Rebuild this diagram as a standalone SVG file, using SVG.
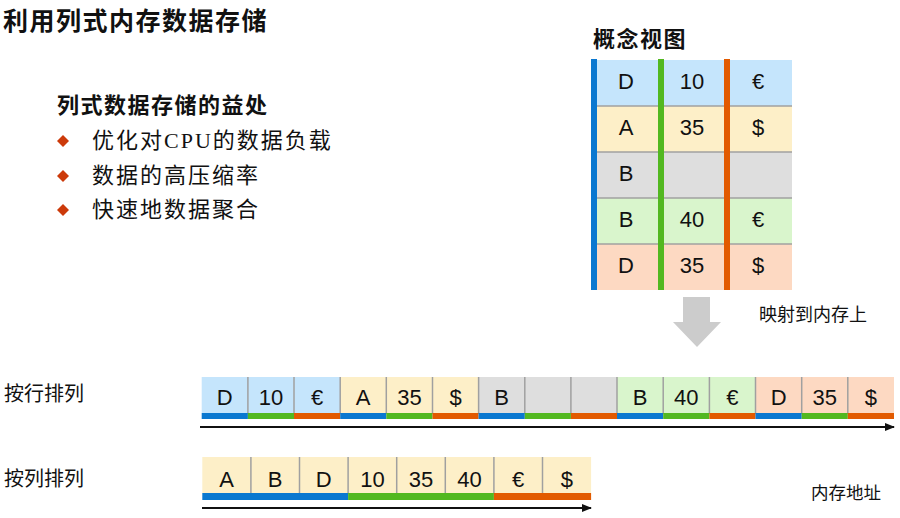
<svg xmlns="http://www.w3.org/2000/svg" width="900" height="518" viewBox="0 0 900 518">
<style>
.sans{font-family:"Liberation Sans","Noto Sans CJK SC",sans-serif;fill:#111}
.cjk{font-family:"Noto Sans CJK SC","Liberation Sans",sans-serif;fill:#111}
.ser{font-family:"Liberation Serif","Noto Sans CJK SC",serif;fill:#111;font-size:22px;letter-spacing:2px}
.cell{font-family:"Liberation Sans","Noto Sans CJK SC",sans-serif;fill:#111;font-size:22px;text-anchor:middle}
.fb{fill:#c5e5fc}.fy{fill:#fdefc8}.fg{fill:#dedede}.fn{fill:#d9f5cc}.fs{fill:#fdd9c2}
.ub{fill:#0a78d0}.un{fill:#52b820}.uo{fill:#e25a00}
.sep{stroke:#a0a0a0;stroke-width:1.5}
.bul{fill:#cc3a0a}
</style>
<defs>
<marker id="ah" markerWidth="10" markerHeight="8" refX="9" refY="4" orient="auto" markerUnits="userSpaceOnUse">
<path d="M0,0 L10,4 L0,8 z" fill="#111"/>
</marker>
</defs>

<g id="title">
<text class="cjk" x="3" y="30" font-size="25" font-weight="bold" letter-spacing="1.5">利用列式内存数据存储</text>
</g>

<g id="benefits">
<text class="cjk" x="57" y="113" font-size="22" font-weight="bold" letter-spacing="1.5">列式数据存储的益处</text>
<polygon class="bul" points="63,135 69,141 63,147 57,141"/>
<text class="ser" x="92" y="148">优化对CPU的数据负载</text>
<polygon class="bul" points="63,170 69,176 63,182 57,176"/>
<text class="ser" x="92" y="183">数据的高压缩率</text>
<polygon class="bul" points="63,204 69,210 63,216 57,210"/>
<text class="ser" x="92" y="217">快速地数据聚合</text>
</g>

<g id="concept-view">
<text class="cjk" x="593" y="47" font-size="22" font-weight="bold" letter-spacing="1.5">概念视图</text>
<rect class="fb" x="591" y="60" width="201" height="46"/>
<rect class="fy" x="591" y="106" width="201" height="46"/>
<rect class="fg" x="591" y="152" width="201" height="46"/>
<rect class="fn" x="591" y="198" width="201" height="46"/>
<rect class="fs" x="591" y="244" width="201" height="46"/>
<line class="sep" x1="597" y1="106" x2="792" y2="106"/>
<line class="sep" x1="597" y1="152" x2="792" y2="152"/>
<line class="sep" x1="597" y1="198" x2="792" y2="198"/>
<line class="sep" x1="597" y1="244" x2="792" y2="244"/>
<rect class="ub" x="591" y="59" width="6" height="231"/>
<rect class="un" x="658" y="59" width="6" height="231"/>
<rect class="uo" x="724" y="59" width="6" height="231"/>
<g class="cell" font-size="21">
<text x="626" y="88.5">D</text><text x="692" y="88.5">10</text><text x="758" y="88.5">€</text>
<text x="626" y="134.5">A</text><text x="692" y="134.5">35</text><text x="758" y="134.5">$</text>
<text x="626" y="180.5">B</text>
<text x="626" y="226.5">B</text><text x="692" y="226.5">40</text><text x="758" y="226.5">€</text>
<text x="626" y="272.5">D</text><text x="692" y="272.5">35</text><text x="758" y="272.5">$</text>
</g>
</g>

<g id="map-label">
<text class="cjk" x="759" y="321" font-size="18">映射到内存上</text>
</g>

<g id="row-order-label">
<text class="cjk" x="4" y="401" font-size="20">按行排列</text>
</g>

<g id="row-order">
<rect class="fb" x="201.7" y="377" width="138.5" height="36"/>
<rect class="fy" x="340.2" y="377" width="138.4" height="36"/>
<rect class="fg" x="478.6" y="377" width="138.4" height="36"/>
<rect class="fn" x="617" y="377" width="138.5" height="36"/>
<rect class="fs" x="755.5" y="377" width="138.5" height="36"/>
<g>
<line class="sep" x1="247.9" y1="377" x2="247.9" y2="414"/>
<line class="sep" x1="294" y1="377" x2="294" y2="414"/>
<line class="sep" x1="340.2" y1="377" x2="340.2" y2="414"/>
<line class="sep" x1="386.3" y1="377" x2="386.3" y2="414"/>
<line class="sep" x1="432.5" y1="377" x2="432.5" y2="414"/>
<line class="sep" x1="478.6" y1="377" x2="478.6" y2="414"/>
<line class="sep" x1="524.8" y1="377" x2="524.8" y2="414"/>
<line class="sep" x1="570.9" y1="377" x2="570.9" y2="414"/>
<line class="sep" x1="617" y1="377" x2="617" y2="414"/>
<line class="sep" x1="663.2" y1="377" x2="663.2" y2="414"/>
<line class="sep" x1="709.4" y1="377" x2="709.4" y2="414"/>
<line class="sep" x1="755.5" y1="377" x2="755.5" y2="414"/>
<line class="sep" x1="801.7" y1="377" x2="801.7" y2="414"/>
<line class="sep" x1="847.8" y1="377" x2="847.8" y2="414"/>
</g>
<rect class="ub" x="201.7" y="413" width="46.2" height="6"/>
<rect class="un" x="247.9" y="413" width="46.1" height="6"/>
<rect class="uo" x="294" y="413" width="46.2" height="6"/>
<rect class="ub" x="340.2" y="413" width="46.1" height="6"/>
<rect class="un" x="386.3" y="413" width="46.2" height="6"/>
<rect class="uo" x="432.5" y="413" width="46.1" height="6"/>
<rect class="ub" x="478.6" y="413" width="46.2" height="6"/>
<rect class="un" x="524.8" y="413" width="46.1" height="6"/>
<rect class="uo" x="570.9" y="413" width="46.1" height="6"/>
<rect class="ub" x="617" y="413" width="46.2" height="6"/>
<rect class="un" x="663.2" y="413" width="46.2" height="6"/>
<rect class="uo" x="709.4" y="413" width="46.1" height="6"/>
<rect class="ub" x="755.5" y="413" width="46.2" height="6"/>
<rect class="un" x="801.7" y="413" width="46.1" height="6"/>
<rect class="uo" x="847.8" y="413" width="46.2" height="6"/>
<g class="cell">
<text x="224.8" y="405">D</text><text x="270.9" y="405">10</text><text x="317.1" y="405">€</text>
<text x="363.2" y="405">A</text><text x="409.4" y="405">35</text><text x="455.5" y="405">$</text>
<text x="501.7" y="405">B</text>
<text x="640.1" y="405">B</text><text x="686.3" y="405">40</text><text x="732.4" y="405">€</text>
<text x="778.6" y="405">D</text><text x="824.7" y="405">35</text><text x="870.9" y="405">$</text>
</g>
</g>

<g id="column-order-label">
<text class="cjk" x="4" y="486" font-size="20">按列排列</text>
</g>

<g id="column-order">
<rect class="fy" x="202.3" y="457" width="388.8" height="36"/>
<line class="sep" x1="250.9" y1="457" x2="250.9" y2="494"/>
<line class="sep" x1="299.5" y1="457" x2="299.5" y2="494"/>
<line class="sep" x1="348.1" y1="457" x2="348.1" y2="494"/>
<line class="sep" x1="396.7" y1="457" x2="396.7" y2="494"/>
<line class="sep" x1="445.3" y1="457" x2="445.3" y2="494"/>
<line class="sep" x1="493.9" y1="457" x2="493.9" y2="494"/>
<line class="sep" x1="542.5" y1="457" x2="542.5" y2="494"/>
<rect class="ub" x="202.3" y="493" width="145.8" height="7"/>
<rect class="un" x="348.1" y="493" width="145.8" height="7"/>
<rect class="uo" x="493.9" y="493" width="97.2" height="7"/>
<g class="cell">
<text x="226.6" y="487">A</text><text x="275.2" y="487">B</text><text x="323.8" y="487">D</text>
<text x="372.4" y="487">10</text><text x="421" y="487">35</text><text x="469.6" y="487">40</text>
<text x="518.2" y="487">€</text><text x="566.8" y="487">$</text>
</g>
</g>

<g id="address-label">
<text class="cjk" x="811" y="499" font-size="17.5">内存地址</text>
</g>

<g id="connectors">
<polygon id="map-arrow" points="683,297 710,297 710,322 721,322 697,347 673,322 683,322" fill="#cccccc"/>
<line x1="200" y1="427" x2="894" y2="427" stroke="#111" stroke-width="2" marker-end="url(#ah)"/>
<line x1="202" y1="508" x2="591" y2="508" stroke="#111" stroke-width="2" marker-end="url(#ah)"/>
</g>
</svg>
